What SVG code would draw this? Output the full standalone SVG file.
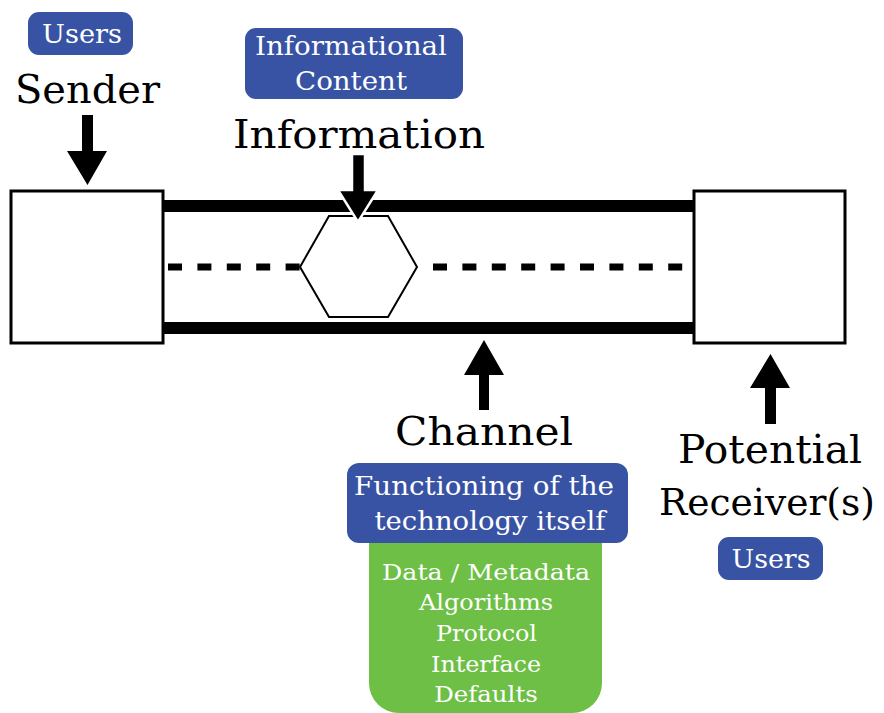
<svg xmlns="http://www.w3.org/2000/svg" width="884" height="713" viewBox="0 0 884 713">
<style>
.big{font-family:"DejaVu Serif","Liberation Serif",serif;font-size:40px;fill:#000;text-anchor:middle}
.lab{font-family:"DejaVu Serif","Liberation Serif",serif;font-size:26px;fill:#fff;text-anchor:middle}
.grn{font-family:"DejaVu Serif","Liberation Serif",serif;font-size:23px;fill:#fff;text-anchor:middle}
.blue{fill:#3953a4}
.box{fill:#fff;stroke:#000;stroke-width:3}
.arr{fill:#000}
</style>
<rect width="884" height="713" fill="#fff"/>
<g id="channel-pipe">
<rect x="163" y="200" width="531" height="12" fill="#000"/>
<rect x="163" y="322" width="531" height="12" fill="#000"/>
<line x1="168" y1="267" x2="300" y2="267" stroke="#000" stroke-width="7" stroke-dasharray="14 15.4"/>
<line x1="433" y1="267" x2="683" y2="267" stroke="#000" stroke-width="7" stroke-dasharray="14 15.4"/>
</g>
<g id="information">
<polygon points="300,267 329,216 388,216 417,267 388,317 329,317" fill="#fff" stroke="#000" stroke-width="2"/>
</g>
<g id="sender">
<rect class="box" x="11" y="191" width="152" height="152"/>
</g>
<g id="receiver">
<rect class="box" x="694" y="191" width="151" height="152"/>
</g>
<g id="connectors">
<polygon class="arr" points="82,115 93,115 93,151 107,151 87.5,185 67,151 82,151"/>
<polygon class="arr" points="352,154 365,154 365,190 378,190 358,222 338,190 352,190" stroke="#fff" stroke-width="2.5" stroke-linejoin="miter"/>
<polygon class="arr" points="484,340 504,375 489,375 489,410 479,410 479,375 464,375"/>
<polygon class="arr" points="770.5,354 790,388 776,388 776,424 765,424 765,388 750,388"/>
</g>
<g id="label-users-sender">
<rect class="blue" x="28" y="12" width="105" height="43" rx="11"/>
<text class="lab" x="82" y="43" textLength="80" lengthAdjust="spacingAndGlyphs">Users</text>
</g>
<g id="label-sender">
<text class="big" x="87.5" y="103" textLength="145" lengthAdjust="spacingAndGlyphs">Sender</text>
</g>
<g id="label-informational-content">
<rect class="blue" x="245" y="28" width="218" height="71" rx="11"/>
<text class="lab" x="351" y="55" textLength="192" lengthAdjust="spacingAndGlyphs">Informational</text>
<text class="lab" x="351" y="90" textLength="112" lengthAdjust="spacingAndGlyphs">Content</text>
</g>
<g id="label-information">
<text class="big" x="359" y="148" textLength="252" lengthAdjust="spacingAndGlyphs">Information</text>
</g>
<g id="label-channel">
<text class="big" x="484" y="445" textLength="178" lengthAdjust="spacingAndGlyphs">Channel</text>
</g>
<g id="technology">
<path d="M369,540 H602 V683 A30,30 0 0 1 572,713 H399 A30,30 0 0 1 369,683 Z" fill="#6dbf45"/>
<rect class="blue" x="347" y="463" width="281" height="80" rx="12"/>
<text class="lab" x="484" y="495" textLength="260" lengthAdjust="spacingAndGlyphs">Functioning of the</text>
<text class="lab" x="490" y="530" textLength="231" lengthAdjust="spacingAndGlyphs">technology itself</text>
<text class="grn" x="486" y="580" textLength="208" lengthAdjust="spacingAndGlyphs">Data / Metadata</text>
<text class="grn" x="486" y="610" textLength="134" lengthAdjust="spacingAndGlyphs">Algorithms</text>
<text class="grn" x="486.5" y="641" textLength="101" lengthAdjust="spacingAndGlyphs">Protocol</text>
<text class="grn" x="486" y="672" textLength="110" lengthAdjust="spacingAndGlyphs">Interface</text>
<text class="grn" x="486" y="702" textLength="103.5" lengthAdjust="spacingAndGlyphs">Defaults</text>
</g>
<g id="label-receiver">
<text class="big" x="770" y="463" textLength="184" lengthAdjust="spacingAndGlyphs">Potential</text>
<text class="big" x="767" y="515" style="font-size:38px" textLength="216" lengthAdjust="spacingAndGlyphs">Receiver(s)</text>
</g>
<g id="label-users-receiver">
<rect class="blue" x="718" y="537" width="105" height="43" rx="11"/>
<text class="lab" x="771" y="568" textLength="79" lengthAdjust="spacingAndGlyphs">Users</text>
</g>
</svg>
